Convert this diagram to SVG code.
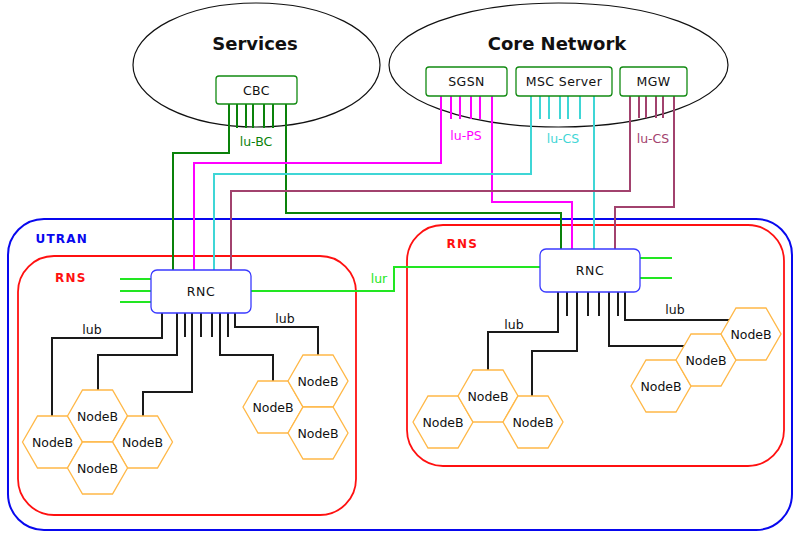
<svg xmlns="http://www.w3.org/2000/svg" xmlns:xlink="http://www.w3.org/1999/xlink" width="800" height="536" viewBox="0 0 800 536">
<style>
text{font-family:"DejaVu Sans","Liberation Sans",sans-serif;font-size:12.5px;fill:#111}
.title{font-size:18px;font-weight:bold;text-anchor:middle}
.cont{font-size:12px;font-weight:bold;letter-spacing:1.2px}
.lbl{text-anchor:middle}
.box{fill:#fff;stroke:#128a12;stroke-width:1.3}
.rnc{fill:#fff;stroke:#3a3aff;stroke-width:1.3}
.hex{fill:#fff;stroke:#ffb847;stroke-width:1.3}
.c{fill:none;stroke-width:2}
.g{stroke:#0a820a}.m{stroke:#ff00ff}.cy{stroke:#3fd6d6}.mr{stroke:#a2426e}.lg{stroke:#22e622}.k{stroke:#1a1a1a}
</style>
<defs>
<path id="hexshape" d="M-30,0 L-15,-26 L15,-26 L30,0 L15,26 L-15,26 Z"/>
</defs>
<g id="containers">
<ellipse cx="256.5" cy="65" rx="123.5" ry="62" fill="none" stroke="#111" stroke-width="1.2"/>
<ellipse cx="558.5" cy="65" rx="169.5" ry="62" fill="none" stroke="#111" stroke-width="1.2"/>
<text class="title" x="255" y="50">Services</text>
<text class="title" x="557" y="50">Core Network</text>
<rect x="8" y="219" width="784" height="311" rx="36" fill="none" stroke="#0808ee" stroke-width="2"/>
<text class="cont" x="35.5" y="242.5" style="fill:#0808ee">UTRAN</text>
<rect x="18" y="256" width="338" height="259" rx="36" fill="none" stroke="#ff1010" stroke-width="1.8"/>
<text class="cont" x="55" y="282" style="fill:#ff1010">RNS</text>
<rect x="407" y="225" width="377" height="241" rx="36" fill="none" stroke="#ff1010" stroke-width="1.8"/>
<text class="cont" x="446.5" y="247.5" style="fill:#ff1010">RNS</text>
</g>
<g id="connectors">
<path class="c g" d="M229,104 V153 H173 V270"/>
<path class="c g" d="M286,104 V213 H561 V249"/>
<path class="c g" d="M237,104 V128 M246,104 V128 M253,104 V128 M264,104 V128 M273,104 V128"/>
<text class="lbl" x="256" y="145.5" style="fill:#0a820a">lu-BC</text>
<path class="c m" d="M441,96 V163 H194 V270"/>
<path class="c m" d="M492,96 V202 H572 V249"/>
<path class="c m" d="M451,96 V119 M460,96 V119 M471,96 V119 M480,96 V119"/>
<text class="lbl" x="466" y="140" style="fill:#ff00ff">lu-PS</text>
<path class="c cy" d="M531,96 V174 H214 V270"/>
<path class="c cy" d="M594,96 V249"/>
<path class="c cy" d="M540,96 V119 M549,96 V119 M560,96 V119 M568,96 V119 M580,96 V119"/>
<text class="lbl" x="563" y="143" style="fill:#3fd6d6">lu-CS</text>
<path class="c mr" d="M630,96 V191 H231 V270"/>
<path class="c mr" d="M674,96 V207 H615 V249"/>
<path class="c mr" d="M639,96 V118 M646,96 V118 M656,96 V118 M663,96 V118"/>
<text class="lbl" x="653" y="143" style="fill:#a2426e">lu-CS</text>
<path class="c lg" d="M251,291 H394 V267 H540"/>
<text class="lbl" x="379" y="283" style="fill:#22e622">lur</text>
<path class="c lg" d="M120,279 H151 M120,291 H151 M120,302 H151"/>
<path class="c lg" d="M640,258 H672 M640,278 H672"/>
<path class="c k" d="M162,313 V338 H52 V416"/>
<path class="c k" d="M177,313 V355 H98 V390"/>
<path class="c k" d="M192,313 V392 H143 V416"/>
<path class="c k" d="M220,313 V355 H273 V381"/>
<path class="c k" d="M235,313 V327 H318 V355"/>
<path class="c k" d="M185,313 V337 M201,313 V337 M212,313 V337 M228,313 V337"/>
<text class="lbl" x="92" y="334">lub</text>
<text class="lbl" x="285" y="322.5">lub</text>
<path class="c k" d="M558,292 V332 H488 V370"/>
<path class="c k" d="M577,292 V351 H532 V396"/>
<path class="c k" d="M609,292 V346 H684"/>
<path class="c k" d="M625,292 V320 H729"/>
<path class="c k" d="M567,292 V316 M588,292 V316 M599,292 V316 M618,292 V316"/>
<text class="lbl" x="514" y="329">lub</text>
<text class="lbl" x="675" y="314">lub</text>
</g>
<g id="cbc"><rect class="box" x="216" y="76" width="81" height="28" rx="3"/><text class="lbl" x="256.5" y="94.5" letter-spacing="0.4">CBC</text></g>
<g id="sgsn"><rect class="box" x="426" y="67" width="81" height="29" rx="3"/><text class="lbl" x="466.5" y="86" letter-spacing="0.4">SGSN</text></g>
<g id="msc"><rect class="box" x="516" y="67" width="96" height="29" rx="3"/><text class="lbl" x="564" y="86" letter-spacing="0.4">MSC Server</text></g>
<g id="mgw"><rect class="box" x="620" y="67" width="67" height="29" rx="3"/><text class="lbl" x="653.5" y="86" letter-spacing="0.4">MGW</text></g>
<g id="rnc1"><rect class="rnc" x="151" y="270" width="100" height="43" rx="6"/><text class="lbl" x="201" y="296" letter-spacing="0.6">RNC</text></g>
<g id="rnc2"><rect class="rnc" x="540" y="249" width="100" height="43" rx="6"/><text class="lbl" x="590" y="275" letter-spacing="0.6">RNC</text></g>
<g id="nodeb1"><use href="#hexshape" class="hex" x="52.5" y="442"/><text class="lbl" x="52.5" y="447">NodeB</text></g>
<g id="nodeb2"><use href="#hexshape" class="hex" x="97.5" y="416"/><text class="lbl" x="97.5" y="421">NodeB</text></g>
<g id="nodeb3"><use href="#hexshape" class="hex" x="142.5" y="442"/><text class="lbl" x="142.5" y="447">NodeB</text></g>
<g id="nodeb4"><use href="#hexshape" class="hex" x="97.5" y="468"/><text class="lbl" x="97.5" y="473">NodeB</text></g>
<g id="nodeb5"><use href="#hexshape" class="hex" x="273" y="407"/><text class="lbl" x="273" y="412">NodeB</text></g>
<g id="nodeb6"><use href="#hexshape" class="hex" x="318" y="381"/><text class="lbl" x="318" y="386">NodeB</text></g>
<g id="nodeb7"><use href="#hexshape" class="hex" x="318" y="433"/><text class="lbl" x="318" y="438">NodeB</text></g>
<g id="nodeb8"><use href="#hexshape" class="hex" x="443" y="422"/><text class="lbl" x="443" y="427">NodeB</text></g>
<g id="nodeb9"><use href="#hexshape" class="hex" x="488" y="396"/><text class="lbl" x="488" y="401">NodeB</text></g>
<g id="nodeb10"><use href="#hexshape" class="hex" x="533" y="422"/><text class="lbl" x="533" y="427">NodeB</text></g>
<g id="nodeb11"><use href="#hexshape" class="hex" x="661" y="386"/><text class="lbl" x="661" y="391">NodeB</text></g>
<g id="nodeb12"><use href="#hexshape" class="hex" x="706" y="360"/><text class="lbl" x="706" y="365">NodeB</text></g>
<g id="nodeb13"><use href="#hexshape" class="hex" x="751" y="334"/><text class="lbl" x="751" y="339">NodeB</text></g>
</svg>
